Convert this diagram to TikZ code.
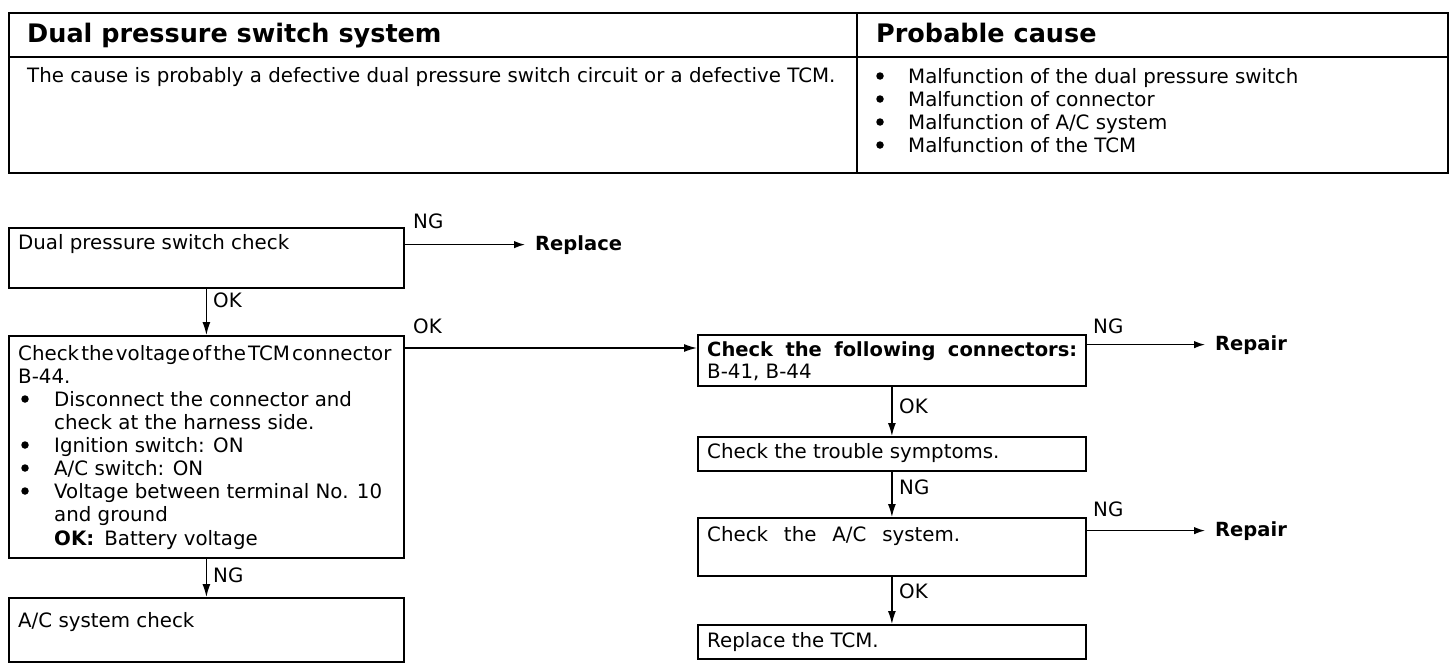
\documentclass[tikz,border=0pt]{standalone}
\usepackage{fontspec}
\setmainfont{DejaVu Sans}
\usetikzlibrary{arrows.meta,calc}
\begin{document}
\begin{tikzpicture}[x=1pt,y=-1pt,
  box/.style={draw, line width=1.8pt, rectangle, anchor=north west, inner sep=0pt},
  txt/.style={anchor=base west, inner sep=0pt, font=\fontsize{19.8}{23}\selectfont},
  btxt/.style={anchor=base west, inner sep=0pt, font=\fontsize{19.5}{23}\selectfont\bfseries},
  htxt/.style={anchor=base west, inner sep=0pt, font=\fontsize{25.5}{30}\selectfont\bfseries},
  dot/.style={circle, fill, inner sep=0pt, minimum size=7.5pt},
  arr/.style={line width=1.4pt, -{Latex[length=13pt,width=8pt]}},
  harr/.style={line width=1.4pt, -{Latex[length=11pt,width=7.5pt]}, shorten >=10pt},
]
\useasboundingbox (0,0) rectangle (1456,670);
% ---- table ----
\node[box, line width=2.2pt, minimum width=1439pt, minimum height=160pt] (tab) at (8,12) {};
\coordinate (hl) at (8,57);
\coordinate (vt) at (857,12);
\draw[line width=1.8pt] (hl) -- (tab.east |- hl);
\draw[line width=1.5pt] (vt) -- (vt |- tab.south);
\node[htxt] (h1) at (27,42) {Dual pressure switch system};
\node[htxt] (h2) at (876,42) {Probable cause};
\node[txt] (t1) at (27,82) {The cause is probably a defective dual pressure switch circuit or a defective TCM.};
\foreach \yy/\tt [count=\i] in {83/{Malfunction of the dual pressure switch},106/{Malfunction of connector},129/{Malfunction of A/C system},152/{Malfunction of the TCM}}{
  \node[dot] (pb\i) at (880,\yy-7) {};
  \node[txt] (pc\i) at (908,\yy) {\tt};
}
% ---- boxes ----
\node[box, minimum width=395pt, minimum height=60pt] (b1) at (8,227) {};
\node[box, minimum width=395pt, minimum height=222pt] (b2) at (8,335) {};
\node[box, minimum width=395pt, minimum height=64pt] (b7) at (8,597) {};
\node[box, minimum width=388pt, minimum height=51pt] (b3) at (697,334) {};
\node[box, minimum width=388pt, minimum height=34pt] (b4) at (697,436) {};
\node[box, minimum width=388pt, minimum height=58pt] (b5) at (697,517) {};
\node[box, minimum width=388pt, minimum height=34pt] (b6) at (697,624) {};
% texts in boxes
\node[txt] (x1) at (18,249) {Dual pressure switch check};
\node[txt] (x2a) at (18,360) {\spaceskip=2.2pt\relax Check the voltage of the TCM connector};
\node[txt] (x2b) at (18,383) {B-44.};
\node[dot] (d1) at (25,399) {};
\node[txt] (x2c) at (54,406) {Disconnect the connector and};
\node[txt] (x2d) at (54,429) {check at the harness side.};
\node[dot] (d2) at (25,445) {};
\node[txt] (x2e) at (54,452) {Ignition switch: ON};
\node[dot] (d3) at (25,468) {};
\node[txt] (x2f) at (54,475) {A/C switch: ON};
\node[dot] (d4) at (25,491) {};
\node[txt] (x2g) at (54,498) {Voltage between terminal No. 10};
\node[txt] (x2h) at (54,521) {and ground};
\node[txt] (x2i) at (54,545) {\textbf{OK:}\hspace{10pt}Battery voltage};
\node[txt] (x7) at (18,627) {A/C system check};
\node[btxt] (x3a) at (707,356) {\makebox[370pt][s]{Check the following connectors:}};
\node[txt] (x3b) at (707,378) {B-41, B-44};
\node[txt] (x4) at (707,458) {Check the trouble symptoms.};
\node[txt] (x5) at (707,541) {\makebox[253pt][s]{Check the A/C system.}};
\node[txt] (x6) at (707,647) {Replace the TCM.};
% outcome texts
\node[btxt] (r1) at (535,250) {Replace};
\node[btxt] (r2) at (1215,350) {Repair};
\node[btxt] (r3) at (1215,536) {Repair};
% connectors
\coordinate (okin) at ($(b3.north west)+(0,14)$);
\draw[harr] (b1.east |- r1.west) -- (r1.west);
\draw[arr] (b1.south) -- (b2.north);
\draw[arr] (b2.south) -- (b7.north);
\draw[arr] (b2.east |- okin) -- (okin);
\draw[harr] (b3.east |- r2.west) -- (r2.west);
\draw[arr] (b3.south) -- (b4.north);
\draw[arr] (b4.south) -- (b5.north);
\draw[harr] (b5.east |- r3.west) -- (r3.west);
\draw[arr] (b5.south) -- (b6.north);
% labels
\node[txt] (l1) at (413,228) {NG};
\node[txt] (l2) at (213,307) {OK};
\node[txt] (l3) at (413,333) {OK};
\node[txt] (l4) at (213,582) {NG};
\node[txt] (l5) at (1093,333) {NG};
\node[txt] (l6) at (899,413) {OK};
\node[txt] (l7) at (899,494) {NG};
\node[txt] (l8) at (1093,516) {NG};
\node[txt] (l9) at (899,598) {OK};
\end{tikzpicture}
\end{document}
